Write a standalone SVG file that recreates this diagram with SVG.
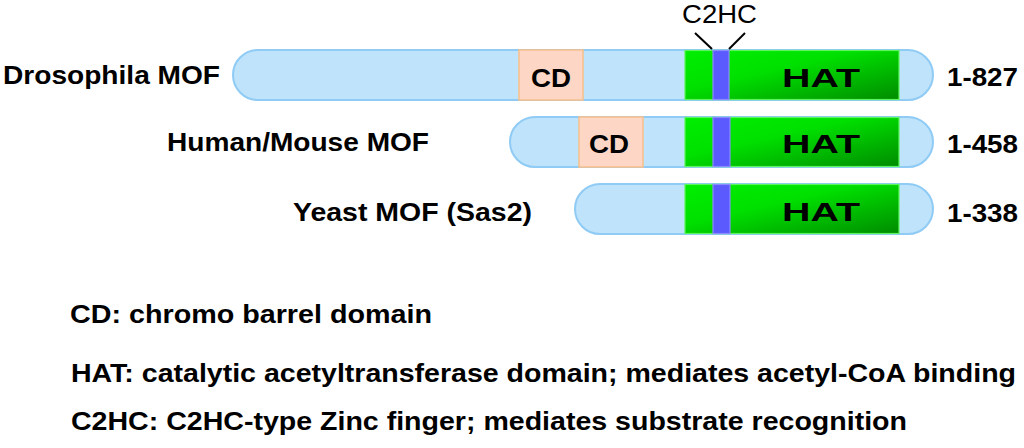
<svg xmlns="http://www.w3.org/2000/svg" width="1024" height="448" viewBox="0 0 1024 448">
  <defs>
    <linearGradient id="hatGrad" x1="0" y1="0" x2="1" y2="1">
      <stop offset="0" stop-color="#00EE00"/>
      <stop offset="0.4" stop-color="#00E000"/>
      <stop offset="1" stop-color="#008C00"/>
    </linearGradient>
    <style>
      .bar { fill: #BEE3FA; stroke: #8FCBF5; stroke-width: 2; }
      .cd { fill: #FDD6C6; stroke: #F8C08A; stroke-width: 1.5; }
      .hat { fill: url(#hatGrad); stroke: #5CF55C; stroke-width: 1.2; }
      .zn { fill: #5A5AFF; stroke: #8C8CFF; stroke-width: 1.2; }
      .t { font-family: "Liberation Sans", Arial, sans-serif; font-weight: bold; font-size: 26.5px; fill: #000; }
      .tr { font-family: "Liberation Sans", Arial, sans-serif; font-weight: normal; font-size: 26px; fill: #000; }
      .ptr { stroke: #000; stroke-width: 2; fill: none; }
    </style>
  </defs>
  <rect width="1024" height="448" fill="#FFFFFF"/>

  <g id="drosophila">
    <text class="t" x="3" y="84" textLength="217" lengthAdjust="spacingAndGlyphs">Drosophila MOF</text>
    <rect class="bar" x="233" y="50" width="700" height="50" rx="25" ry="25"/>
    <rect class="cd" x="519" y="50" width="64" height="50"/>
    <text class="t" x="531" y="87" textLength="40" lengthAdjust="spacingAndGlyphs">CD</text>
    <rect class="hat" x="685" y="50.5" width="214" height="49"/>
    <rect class="zn" x="713" y="50.5" width="16" height="49"/>
    <text class="t" x="782" y="87" textLength="78" lengthAdjust="spacingAndGlyphs">HAT</text>
    <text class="t" x="947" y="86" textLength="71" lengthAdjust="spacingAndGlyphs">1-827</text>
  </g>

  <g id="human">
    <text class="t" x="167" y="151" textLength="262" lengthAdjust="spacingAndGlyphs">Human/Mouse MOF</text>
    <rect class="bar" x="510" y="117" width="423" height="50" rx="25" ry="25"/>
    <rect class="cd" x="579" y="117" width="64" height="50"/>
    <text class="t" x="589" y="153" textLength="40" lengthAdjust="spacingAndGlyphs">CD</text>
    <rect class="hat" x="685" y="117.5" width="214" height="49"/>
    <rect class="zn" x="713" y="117.5" width="17" height="49"/>
    <text class="t" x="782" y="153" textLength="78" lengthAdjust="spacingAndGlyphs">HAT</text>
    <text class="t" x="947" y="153" textLength="71" lengthAdjust="spacingAndGlyphs">1-458</text>
  </g>

  <g id="yeast">
    <text class="t" x="293" y="221" textLength="239" lengthAdjust="spacingAndGlyphs">Yeast MOF (Sas2)</text>
    <rect class="bar" x="575" y="184" width="358" height="50" rx="25" ry="25"/>
    <rect class="hat" x="685" y="184.5" width="214" height="49"/>
    <rect class="zn" x="713" y="184.5" width="17" height="49"/>
    <text class="t" x="782" y="221" textLength="78" lengthAdjust="spacingAndGlyphs">HAT</text>
    <text class="t" x="947" y="222" textLength="71" lengthAdjust="spacingAndGlyphs">1-338</text>
  </g>

  <g id="c2hc-label">
    <text class="tr" x="682" y="23" textLength="75" lengthAdjust="spacingAndGlyphs">C2HC</text>
  </g>

  <g id="connectors">
    <line class="ptr" x1="695" y1="33" x2="712" y2="49"/>
    <line class="ptr" x1="745" y1="33" x2="729" y2="49"/>
  </g>

  <g id="legend">
    <text class="t" x="70" y="323" textLength="362" lengthAdjust="spacingAndGlyphs">CD: chromo barrel domain</text>
    <text class="t" x="71" y="382" textLength="945" lengthAdjust="spacingAndGlyphs">HAT: catalytic acetyltransferase domain; mediates acetyl-CoA binding</text>
    <text class="t" x="71" y="430" textLength="836" lengthAdjust="spacingAndGlyphs">C2HC: C2HC-type Zinc finger; mediates substrate recognition</text>
  </g>
</svg>
